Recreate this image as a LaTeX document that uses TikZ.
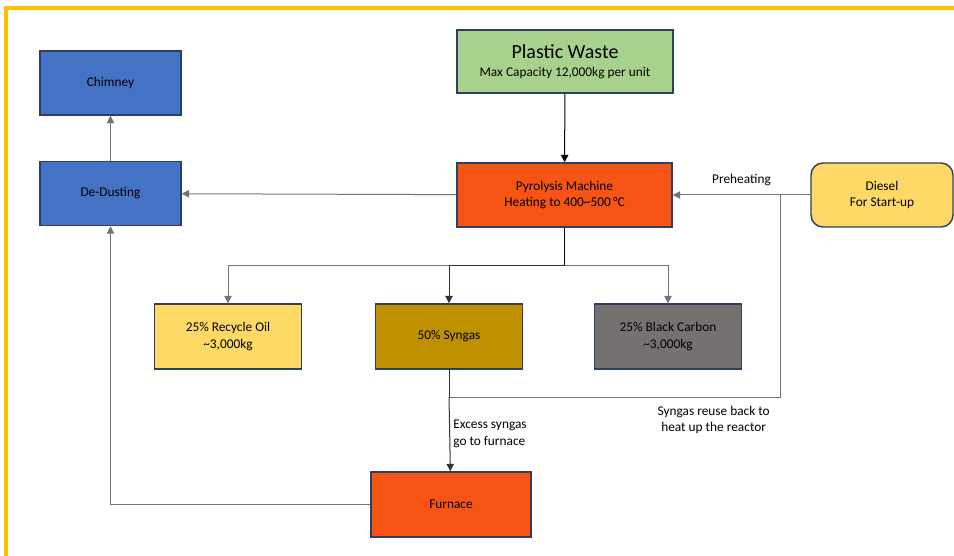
\documentclass[tikz,border=0pt]{standalone}
\usepackage{fontspec}
\setmainfont{Carlito}
\usetikzlibrary{arrows.meta}

\definecolor{frameyellow}{HTML}{FFC000}
\definecolor{boxline}{HTML}{2F3F5F}
\definecolor{wastegreen}{HTML}{A9D18E}
\definecolor{dustblue}{HTML}{4472C4}
\definecolor{fireorange}{HTML}{F55415}
\definecolor{oilyellow}{HTML}{FFD966}
\definecolor{gasgold}{HTML}{BF9000}
\definecolor{carbongray}{HTML}{767171}

\tikzset{
	stagebox/.style={draw=boxline, line width=1.1pt, inner sep=0pt, align=center, font=\fontsize{10}{12.5}\selectfont, minimum height=48pt},
	flow/.style={draw=black!55, line width=0.75pt, -{Triangle[length=5.5pt,width=5.5pt]}},
	pipe/.style={draw=black!55, line width=0.75pt},
	note/.style={align=center, font=\fontsize{10}{12.5}\selectfont}
}

\begin{document}
\begin{tikzpicture}[x=0.75pt,y=-0.75pt]
	\useasboundingbox (0,0) rectangle (954,556);

	% Frame
	\draw[frameyellow, line width=2.4pt] (6,556) -- (6,8) -- (954,8);

	% Boxes
	\node[stagebox, fill=wastegreen, minimum width=162pt, minimum height=47pt] (waste) at (565,61.5) {{\fontsize{15}{17}\selectfont Plastic Waste}\\[1pt]Max Capacity 12,000kg per unit};
	\node[stagebox, fill=dustblue, minimum width=105.75pt] (chimney) at (110.5,83) {Chimney};
	\node[stagebox, fill=dustblue, minimum width=105.75pt] (dedust) at (110.5,193.5) {De-Dusting};
	\node[stagebox, fill=fireorange, minimum width=161.25pt] (pyro) at (564.5,195) {Pyrolysis Machine\\Heating to 400\textasciitilde500\,°C};
	\node[stagebox, fill=oilyellow, rounded corners=9pt, minimum width=106.5pt] (diesel) at (882,195) {Diesel\\For Start-up};
	\node[stagebox, fill=oilyellow, minimum width=110.25pt, minimum height=48.75pt] (oil) at (228,336.5) {25\% Recycle Oil\\\textasciitilde3,000kg};
	\node[stagebox, fill=gasgold, minimum width=110.25pt, minimum height=48.75pt] (syngas) at (449,336.5) {50\% Syngas};
	\node[stagebox, fill=carbongray, minimum width=110.25pt, minimum height=48.75pt] (carbon) at (668,336.5) {25\% Black Carbon\\\textasciitilde3,000kg};
	\node[stagebox, fill=fireorange, minimum width=120pt, minimum height=48.75pt] (furnace) at (451,504.5) {Furnace};

	% Junctions
	\coordinate (split) at (564.5,266);
	\coordinate (tee) at (449,397);
	\coordinate (join) at (780,195);

	% Main line
	\draw[flow, draw=black] (waste) -- (pyro);
	\draw[flow] (pyro) -- (dedust);
	\draw[flow] (dedust) -- (chimney);
	\draw[flow] (diesel) -- node[note, above=3pt] {Preheating} (pyro);

	% Products
	\draw[black, line width=1.3pt] (pyro.south) -- (split);
	\draw[flow] (split) -| (oil);
	\draw[flow, draw=black!80] (split) -| (syngas);
	\draw[flow] (split) -| (carbon);

	% Syngas return and furnace
	\draw[pipe, draw=black!80] (syngas) -- (tee);
	\draw[pipe] (tee) -| node[note, pos=0.5, anchor=north east, xshift=-4pt, yshift=-3pt] {Syngas reuse back to\\heat up the reactor} (join);
	\draw[flow, draw=black!80] (tee) -- node[note, anchor=west, align=left, xshift=-1pt] {Excess syngas\\go to furnace} (furnace);
	\draw[flow] (furnace) -| (dedust);
\end{tikzpicture}
\end{document}
